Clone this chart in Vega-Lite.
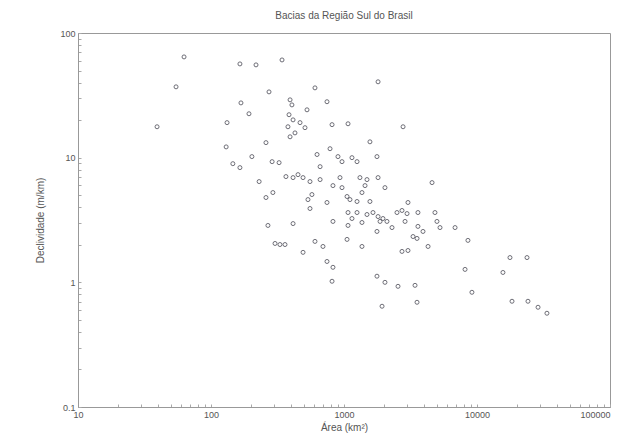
{
  "$schema": "https://vega.github.io/schema/vega-lite/v6.json",
  "autosize": {"type": "none"},
  "padding": {"left": 78, "top": 33, "right": 13, "bottom": 38},
  "width": 532,
  "height": 374,
  "background": "white",
  "config": {
    "font": "Liberation Sans",
    "view": {"stroke": "#999", "strokeWidth": 1},
    "axis": {"grid": false, "domainColor": "#999", "tickColor": "#aaa", "labelColor": "#555", "titleColor": "#555", "labelFontSize": 9, "titleFontSize": 10, "titleFontWeight": "normal"}
  },
  "title": {"text": "Bacias da Região Sul do Brasil", "fontSize": 10, "fontWeight": "normal", "color": "#555", "offset": 8},
  "data": {"values": [
    {"area": 62.7, "decl": 64.3}, {"area": 54.6, "decl": 37.0}, {"area": 39.3, "decl": 17.7}, {"area": 165, "decl": 56.5},
    {"area": 218, "decl": 55.5}, {"area": 342, "decl": 60.8}, {"area": 273, "decl": 33.7}, {"area": 168, "decl": 27.5},
    {"area": 193, "decl": 22.5}, {"area": 132, "decl": 19.1}, {"area": 130, "decl": 12.2}, {"area": 259, "decl": 13.2},
    {"area": 203, "decl": 10.2}, {"area": 288, "decl": 9.29}, {"area": 325, "decl": 9.12}, {"area": 146, "decl": 8.95},
    {"area": 165, "decl": 8.32}, {"area": 230, "decl": 6.43}, {"area": 292, "decl": 5.25}, {"area": 259, "decl": 4.79},
    {"area": 393, "decl": 29.1}, {"area": 406, "decl": 26.5}, {"area": 386, "decl": 22.1}, {"area": 414, "decl": 20.1},
    {"area": 379, "decl": 17.7}, {"area": 393, "decl": 14.7}, {"area": 428, "decl": 15.8}, {"area": 366, "decl": 7.05},
    {"area": 414, "decl": 6.92}, {"area": 268, "decl": 2.86}, {"area": 303, "decl": 2.05}, {"area": 330, "decl": 2.01},
    {"area": 360, "decl": 2.01}, {"area": 1803, "decl": 40.6}, {"area": 605, "decl": 36.3}, {"area": 745, "decl": 28.1},
    {"area": 527, "decl": 24.2}, {"area": 467, "decl": 19.1}, {"area": 813, "decl": 18.4}, {"area": 1072, "decl": 18.7},
    {"area": 2780, "decl": 17.7}, {"area": 509, "decl": 17.4}, {"area": 1567, "decl": 13.4}, {"area": 785, "decl": 11.8},
    {"area": 627, "decl": 10.6}, {"area": 901, "decl": 10.2}, {"area": 966, "decl": 9.29}, {"area": 1148, "decl": 10.0},
    {"area": 1253, "decl": 9.29}, {"area": 1770, "decl": 10.2}, {"area": 661, "decl": 8.47}, {"area": 451, "decl": 7.31},
    {"area": 492, "decl": 6.92}, {"area": 555, "decl": 6.43}, {"area": 661, "decl": 6.67}, {"area": 933, "decl": 6.92},
    {"area": 1318, "decl": 6.92}, {"area": 1489, "decl": 6.67}, {"area": 1803, "decl": 6.92}, {"area": 4592, "decl": 6.31},
    {"area": 826, "decl": 5.97}, {"area": 966, "decl": 5.75}, {"area": 1439, "decl": 5.97}, {"area": 2032, "decl": 5.75},
    {"area": 574, "decl": 5.06}, {"area": 536, "decl": 4.61}, {"area": 1054, "decl": 4.88}, {"area": 1109, "decl": 4.61},
    {"area": 1253, "decl": 4.45}, {"area": 1365, "decl": 5.25}, {"area": 1567, "decl": 4.45}, {"area": 745, "decl": 4.37},
    {"area": 555, "decl": 3.91}, {"area": 3027, "decl": 4.37}, {"area": 1072, "decl": 3.63}, {"area": 1253, "decl": 3.63},
    {"area": 1148, "decl": 3.25}, {"area": 1489, "decl": 3.50}, {"area": 1652, "decl": 3.63}, {"area": 1803, "decl": 3.37},
    {"area": 1963, "decl": 3.25}, {"area": 2104, "decl": 3.08}, {"area": 2503, "decl": 3.63}, {"area": 2729, "decl": 3.77},
    {"area": 2978, "decl": 3.56}, {"area": 3597, "decl": 3.63}, {"area": 4830, "decl": 3.63}, {"area": 826, "decl": 3.08},
    {"area": 1365, "decl": 3.02}, {"area": 1866, "decl": 3.08}, {"area": 2877, "decl": 3.08}, {"area": 3597, "decl": 2.81},
    {"area": 3926, "decl": 2.56}, {"area": 5000, "decl": 3.08}, {"area": 5270, "decl": 2.75}, {"area": 1072, "decl": 2.86},
    {"area": 414, "decl": 2.96}, {"area": 1770, "decl": 2.56}, {"area": 2296, "decl": 2.75}, {"area": 3304, "decl": 2.33},
    {"area": 3540, "decl": 2.25}, {"area": 1054, "decl": 2.21}, {"area": 605, "decl": 2.13}, {"area": 695, "decl": 1.94},
    {"area": 1365, "decl": 1.94}, {"area": 492, "decl": 1.74}, {"area": 2729, "decl": 1.77}, {"area": 3027, "decl": 1.80},
    {"area": 4285, "decl": 1.94}, {"area": 745, "decl": 1.47}, {"area": 826, "decl": 1.32}, {"area": 813, "decl": 1.02},
    {"area": 1770, "decl": 1.12}, {"area": 2032, "decl": 1.0}, {"area": 2547, "decl": 0.929}, {"area": 3420, "decl": 0.946},
    {"area": 3540, "decl": 0.692}, {"area": 1932, "decl": 0.643}, {"area": 6840, "decl": 2.75}, {"area": 8550, "decl": 2.17},
    {"area": 17700, "decl": 1.58}, {"area": 23770, "decl": 1.58}, {"area": 8130, "decl": 1.27}, {"area": 15670, "decl": 1.20},
    {"area": 9160, "decl": 0.832}, {"area": 18330, "decl": 0.705}, {"area": 24170, "decl": 0.705}, {"area": 28770, "decl": 0.631},
    {"area": 33570, "decl": 0.565}
  ]},
  "mark": {"type": "point", "shape": "circle", "filled": false, "size": 16, "stroke": "#4a4a55", "strokeWidth": 1, "opacity": 0.8},
  "encoding": {
    "x": {
      "field": "area", "type": "quantitative",
      "scale": {"type": "log", "domain": [10, 100000], "nice": false},
      "axis": {
        "title": "Área (km²)", "titleFontSize": 10, "titlePadding": 3,
        "values": [10, 20, 30, 40, 50, 60, 70, 80, 90, 100, 200, 300, 400, 500, 600, 700, 800, 900, 1000, 2000, 3000, 4000, 5000, 6000, 7000, 8000, 9000, 10000, 20000, 30000, 40000, 50000, 60000, 70000, 80000, 90000, 100000],
        "labelExpr": "abs(log(datum.value)/log(10) - round(log(datum.value)/log(10))) < 0.001 ? format(datum.value, 'd') : ''",
        "labelAlign": {"condition": {"test": "datum.value >= 99999", "value": "right"}, "value": "center"},
        "tickSize": -3, "labelPadding": 6, "labelFlush": false
      }
    },
    "y": {
      "field": "decl", "type": "quantitative",
      "scale": {"type": "log", "domain": [0.1, 100], "nice": false},
      "axis": {
        "title": "Declividade (m/km)", "titleFontSize": 10, "titlePadding": 14,
        "values": [0.1, 0.2, 0.3, 0.4, 0.5, 0.6, 0.7, 0.8, 0.9, 1, 2, 3, 4, 5, 6, 7, 8, 9, 10, 20, 30, 40, 50, 60, 70, 80, 90, 100],
        "labelExpr": "abs(log(datum.value)/log(10) - round(log(datum.value)/log(10))) < 0.001 ? format(datum.value, '~g') : ''",
        "tickSize": -3, "labelPadding": 6, "labelFlush": false
      }
    }
  }
}
